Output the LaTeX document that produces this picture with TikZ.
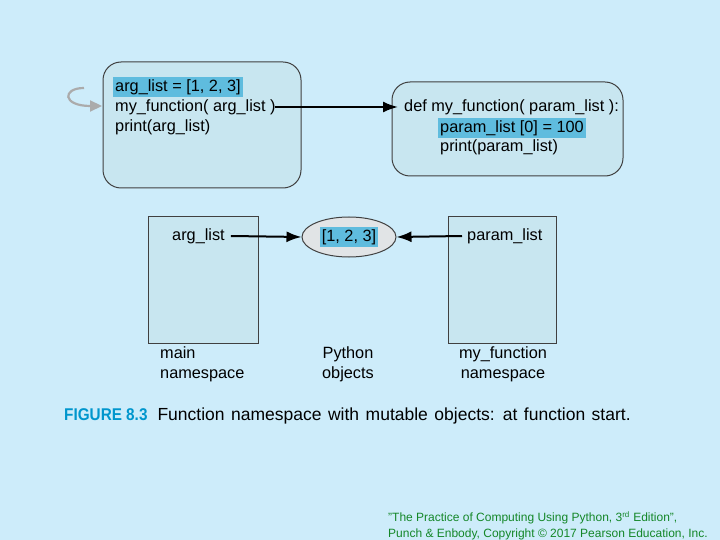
\documentclass[tikz,border=0pt]{standalone}
\usepackage{fontspec}
\setmainfont{Liberation Sans}
\newfontfamily\capfont{Liberation Sans}
\newfontfamily\figfont[FakeStretch=0.9]{Liberation Sans}
\usetikzlibrary{arrows.meta,shapes.geometric}
\definecolor{bgc}{RGB}{205,236,250}
\definecolor{boxc}{RGB}{200,230,240}
\definecolor{hl}{RGB}{95,188,222}
\definecolor{figc}{RGB}{0,150,205}
\definecolor{grn}{RGB}{20,135,40}
\definecolor{ellc}{RGB}{225,228,230}
\tikzset{
  codebox/.style={draw=black!75, line width=1pt, fill=boxc, rounded corners=18pt},
  nsbox/.style={draw=black!75, line width=1pt, fill=boxc},
  codetxt/.style={anchor=west, inner sep=0pt, font=\fontsize{16.3}{18}\selectfont},
  hltxt/.style={codetxt, fill=hl, inner xsep=2pt, inner ysep=2.5pt},
  conn/.style={line width=2pt, -{Latex[length=15pt,width=11pt]}},
  lbl/.style={font=\fontsize{16.3}{20}\selectfont, inner sep=0pt}
}
\begin{document}
\begin{tikzpicture}[x=1pt,y=-1pt]
\fill[bgc] (0,0) rectangle (720,540);
\useasboundingbox (0,0) rectangle (720,540);
% code boxes
\draw[codebox] (103,62) rectangle (301,188);
\draw[codebox] (392,82) rectangle (623,176);
\node[hltxt] (l1) at (113,87) {arg\_list = [1, 2, 3]};
\node[codetxt] (l2) at (115,107) {my\_function( arg\_list )};
\node[codetxt] (l3) at (115,127) {print(arg\_list)};
\node[codetxt] (r1) at (404,107) {def my\_function( param\_list ):};
\node[hltxt] (r2) at (438,128) {param\_list [0] = 100};
\node[codetxt] (r3) at (440,147) {print(param\_list)};
\coordinate (callend) at (398,107);
\draw[conn] ([xshift=-1pt]l2.east) -- (callend);
% gray curved arrow
\coordinate (cs) at (84,88);
\coordinate (ce) at (102,106);
\draw[draw=black!33, fill=none, line width=2.2pt, -{Triangle[length=12pt,width=11pt]}]
  (cs) .. controls (62,88) and (62,106) .. (ce);
% namespace boxes
\draw[nsbox] (148,217) rectangle (258,343);
\draw[nsbox] (448,217) rectangle (556,343);
\node[draw=black!75, line width=1pt, fill=ellc, ellipse, minimum width=94pt, minimum height=40pt, inner sep=0pt] (obj) at (349,237) {};
\node[lbl, fill=hl, inner xsep=2pt, inner ysep=2.5pt] (objt) at (349,237) {[1, 2, 3]};
\node[lbl, anchor=west] (an) at (172,236) {arg\_list};
\node[lbl, anchor=west] (pn) at (467,236) {param\_list};
\draw[conn] ([xshift=6pt]an.east) -- (obj.west);
\draw[conn] ([xshift=-5pt]pn.west) -- (obj.east);
% labels
\node[lbl, align=left, anchor=north west] (mn) at (160,346) {main\\namespace};
\node[lbl, align=center, anchor=north] (po) at (348,346) {Python\\objects};
\node[lbl, align=center, anchor=north] (fn) at (503,346) {my\_function\\namespace};
% caption
\node[anchor=west, inner sep=0pt, font=\capfont\fontsize{17.5}{20}\selectfont] (cap) at (64,416)
  {{\figfont\fontsize{17}{20}\selectfont\color{figc}\bfseries FIGURE 8.3}\hspace{10pt}{\spaceskip=6.5pt Function namespace with mutable objects: at function start.}};
% copyright
\node[anchor=north west, align=left, inner sep=0pt, text=grn, font=\fontsize{12}{16}\selectfont] (cpy) at (388,511)
  {"The Practice of Computing Using Python, 3\textsuperscript{rd} Edition",\\Punch \& Enbody, Copyright © 2017 Pearson Education, Inc.};
\end{tikzpicture}
\end{document}
